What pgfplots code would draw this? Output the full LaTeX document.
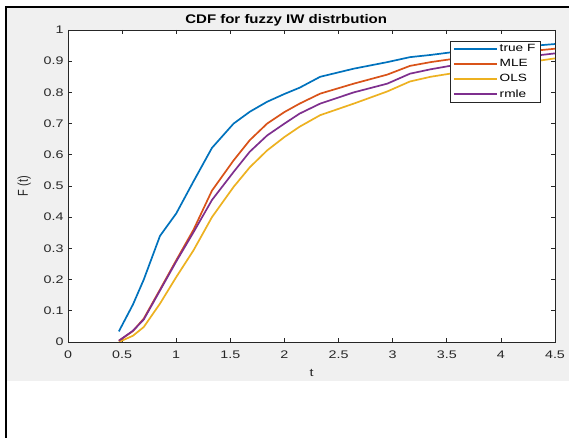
\documentclass[border=0pt]{standalone}
\usepackage{graphicx}
\usepackage{pgfplots}
\pgfplotsset{compat=1.18}
\usepackage{fontspec}
\setmainfont{Liberation Sans}
\definecolor{mblue}{rgb}{0,0.447,0.741}
\definecolor{morange}{rgb}{0.85,0.325,0.098}
\definecolor{myellow}{rgb}{0.929,0.694,0.125}
\definecolor{mpurple}{rgb}{0.494,0.184,0.556}
\definecolor{bggray}{RGB}{240,240,240}
\definecolor{axgray}{RGB}{38,38,38}
\newcommand{\hs}[1]{\scalebox{1.3}[1]{#1}}
\begin{document}
\begin{tikzpicture}[x=1pt,y=1pt]
\useasboundingbox (0,0) rectangle (569,438);
\fill[white] (0,0) rectangle (569,438);
\fill[bggray] (7,57) rectangle (569,431);
\draw[black,line width=2pt] (6,0) -- (6,431) -- (569,431);
\begin{axis}[
  at={(68pt,96pt)}, anchor=south west,
  scale only axis, width=487pt, height=312pt,
  xmin=0, xmax=4.5, ymin=0, ymax=1,
  xtick={0,0.5,1,1.5,2,2.5,3,3.5,4,4.5},
  xticklabels={\hs{0},\hs{0.5},\hs{1},\hs{1.5},\hs{2},\hs{2.5},\hs{3},\hs{3.5},\hs{4},\hs{4.5}},
  ytick={0,0.1,0.2,0.3,0.4,0.5,0.6,0.7,0.8,0.9,1},
  yticklabels={\hs{0},\hs{0.1},\hs{0.2},\hs{0.3},\hs{0.4},\hs{0.5},\hs{0.6},\hs{0.7},\hs{0.8},\hs{0.9},\hs{1}},
  tick align=inside, tick pos=both,
  major tick length=4pt,
  every tick/.style={axgray, line width=0.6pt},
  axis line style={axgray, line width=0.7pt},
  axis background/.style={fill=white},
  ticklabel style={font=\fontsize{11}{13}\selectfont, text=axgray},
  xticklabel style={yshift=-5pt},
  yticklabel style={xshift=-1pt},
  title={\scalebox{1.2}[1]{CDF for fuzzy IW distrbution}},
  title style={font=\bfseries\fontsize{12.5}{14}\selectfont, at={(axis description cs:0.448,1)}, anchor=base},
  xlabel={\hs{t}}, ylabel={\scalebox{1}[1.3]{F (t)}},
  label style={font=\fontsize{11}{13}\selectfont, text=axgray},
  xlabel style={at={(axis description cs:0.5,-0.099)}, anchor=center},
  ylabel style={at={(axis description cs:-0.09,0.5)}, anchor=center, rotate=0},
  legend cell align=left,
  legend style={at={(0.784,0.965)}, anchor=north west, draw=axgray,
    font=\fontsize{10.5}{12}\selectfont, row sep=2.2pt, inner xsep=3pt, inner ysep=1.5pt},
  legend image code/.code={\draw[#1, line width=1.7pt] (0pt,0pt) -- (43pt,0pt);},
]
\addplot[color=mblue, line width=1.7pt, line join=round] coordinates {
(0.47,0.034) (0.6,0.12) (0.7,0.20) (0.85,0.34) (1.0,0.412) (1.16,0.515) (1.33,0.622)
(1.53,0.70) (1.68,0.738) (1.84,0.77) (2.0,0.795) (2.14,0.815) (2.33,0.85) (2.64,0.876)
(2.95,0.897) (3.16,0.913) (3.35,0.92) (3.53,0.928) (4.0,0.941) (4.5,0.955)};
\addlegendentry{\hs{true F}}
\addplot[color=morange, line width=1.7pt, line join=round] coordinates {
(0.47,0.004) (0.6,0.035) (0.7,0.075) (0.85,0.168) (1.0,0.262) (1.16,0.36) (1.33,0.485)
(1.53,0.582) (1.68,0.647) (1.84,0.70) (2.0,0.737) (2.14,0.764) (2.33,0.796) (2.64,0.828)
(2.95,0.857) (3.16,0.885) (3.35,0.897) (3.53,0.906) (4.0,0.923) (4.5,0.94)};
\addlegendentry{\hs{MLE}}
\addplot[color=myellow, line width=1.7pt, line join=round] coordinates {
(0.47,0.0) (0.6,0.02) (0.7,0.048) (0.85,0.123) (1.0,0.208) (1.16,0.294) (1.33,0.40)
(1.53,0.497) (1.68,0.56) (1.84,0.614) (2.0,0.657) (2.14,0.69) (2.33,0.727) (2.64,0.764)
(2.95,0.803) (3.16,0.835) (3.35,0.85) (3.53,0.86) (4.0,0.884) (4.5,0.909)};
\addlegendentry{\hs{OLS}}
\addplot[color=mpurple, line width=1.7pt, line join=round] coordinates {
(0.47,0.004) (0.6,0.036) (0.7,0.072) (0.85,0.165) (1.0,0.258) (1.16,0.352) (1.33,0.455)
(1.53,0.545) (1.68,0.61) (1.84,0.662) (2.0,0.70) (2.14,0.732) (2.33,0.764) (2.64,0.80)
(2.95,0.828) (3.16,0.86) (3.35,0.874) (3.53,0.885) (4.0,0.905) (4.5,0.925)};
\addlegendentry{\hs{rmle}}
\end{axis}
\end{tikzpicture}
\end{document}
